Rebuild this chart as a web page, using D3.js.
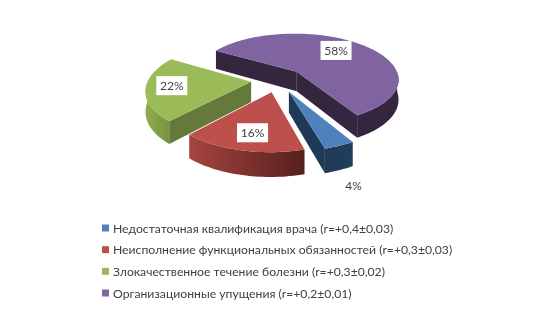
<!DOCTYPE html>
<html>
<head>
<meta charset="utf-8">
<script src="https://cdn.jsdelivr.net/npm/d3@7"></script>
<style>
  html, body { margin: 0; padding: 0; background: #fff; }
  svg { display: block; }
  text { font-family: Lato, "Open Sans", sans-serif; fill: #404040; }
</style>
</head>
<body>
<div id="chart"></div>
<script>
const categories = [
    "Недостаточная квалификация врача (r=+0,4±0,03)",
    "Неисполнение функциональных обязанностей (r=+0,3±0,03)",
    "Злокачественное течение болезни (r=+0,3±0,02)",
    "Организационные упущения (r=+0,2±0,01)"
];
const values = [4, 16, 22, 58];
const labels = ["4%", "16%", "22%", "58%"];

const topColors = ["#4f81bd", "#bd4f4c", "#9bbb59", "#8064a2"];
const faceColors = ["#1f3a57", "#5a2321", "#64793a", "#35263f"];
const wallFrom = ["#1f3a57", "#a5443f", "#8fae50", "#35263f"];
const wallTo = ["#223e5e", "#55201e", "#76923f", "#35263f"];

const width = 557, height = 311;
const cx = 278, cy = 80;        // pie centre on the page
const radius = 103, explode = 27, depth = 20;
const tilt = 0.45, perspective = 0.0015;

// where the % labels sit, picked by eye
const labelRadius = [1.35, 0.7, 0.7, 0.6];
const labelShift = [[-8, 16], [1, 2], [-6, -1], [0, -4]];

const svg = d3.select("#chart").append("svg")
    .attr("width", width)
    .attr("height", height);
const defs = svg.append("defs");

// angles run clockwise from 12 o'clock, first slice starts at 150 degrees
const slices = d3.pie().sort(null)
    .startAngle(150 * Math.PI / 180)
    .endAngle(510 * Math.PI / 180)(values);

// pie plane -> page, v grows toward the viewer
function project(u, v, drop) {
    const s = 1 / (1 - perspective * v);
    return [cx + u * s, cy + (v * tilt + (drop || 0)) * s];
}

const line = d3.line();
const chart = svg.append("g").style("filter", "blur(0.35px)");

slices.forEach((d, i) => {
    const mid = (d.startAngle + d.endAngle) / 2;
    const ou = Math.sin(mid) * explode, ov = -Math.cos(mid) * explode;
    const rim = (a, drop) => project(ou + Math.sin(a) * radius, ov - Math.cos(a) * radius, drop);
    const apex = drop => project(ou, ov, drop);

    const steps = d3.range(d.startAngle, d.endAngle, 0.03).concat([d.endAngle]);
    const g = chart.append("g");

    // outer wall, front half only
    const grad = defs.append("linearGradient").attr("id", "wall" + i);
    grad.append("stop").attr("offset", 0).attr("stop-color", wallFrom[i]);
    grad.append("stop").attr("offset", 1).attr("stop-color", wallTo[i]);

    const front = steps.filter(a => Math.cos(a) < 0);
    if (front.length) {
        const wall = front.map(a => rim(a, 0)).concat(front.slice().reverse().map(a => rim(a, depth)));
        g.append("path").attr("d", line(wall) + "Z").attr("fill", `url(#wall${i})`);
    }

    // radial cut faces, only the ones turned to the viewer
    if (Math.sin(d.startAngle) < 0) {
        g.append("path")
            .attr("d", line([apex(0), rim(d.startAngle, 0), rim(d.startAngle, depth), apex(depth)]) + "Z")
            .attr("fill", faceColors[i]);
    }
    if (Math.sin(d.endAngle) > 0) {
        g.append("path")
            .attr("d", line([apex(0), rim(d.endAngle, 0), rim(d.endAngle, depth), apex(depth)]) + "Z")
            .attr("fill", faceColors[i]);
    }

    // top of the slice
    g.append("path")
        .attr("d", line([apex(0)].concat(steps.map(a => rim(a, 0)))) + "Z")
        .attr("fill", topColors[i]);
});

// data labels
slices.forEach((d, i) => {
    const mid = (d.startAngle + d.endAngle) / 2;
    const r = explode + radius * labelRadius[i];
    const p = project(Math.sin(mid) * r, -Math.cos(mid) * r);
    const x = p[0] + labelShift[i][0], y = p[1] + labelShift[i][1];
    if (i > 0) {
        chart.append("rect")
            .attr("x", x - 15.5).attr("y", y - 9.5)
            .attr("width", 31).attr("height", 19)
            .attr("fill", "#fff");
    }
    chart.append("text")
        .attr("x", x).attr("y", y + 4.5)
        .attr("text-anchor", "middle")
        .attr("font-size", 12)
        .text(labels[i]);
});

// legend
const legendY = d3.scalePoint().domain(categories).range([228, 293]);
const legend = chart.selectAll(".legend").data(categories).enter().append("g")
    .attr("class", "legend")
    .attr("transform", d => `translate(102,${legendY(d)})`);
legend.append("rect")
    .attr("y", -3.5).attr("width", 7).attr("height", 7)
    .attr("fill", (d, i) => topColors[i]);
legend.append("text")
    .attr("x", 11).attr("y", 4.5)
    .attr("font-size", 12.2)
    .text(d => d);
</script>
</body>
</html>
